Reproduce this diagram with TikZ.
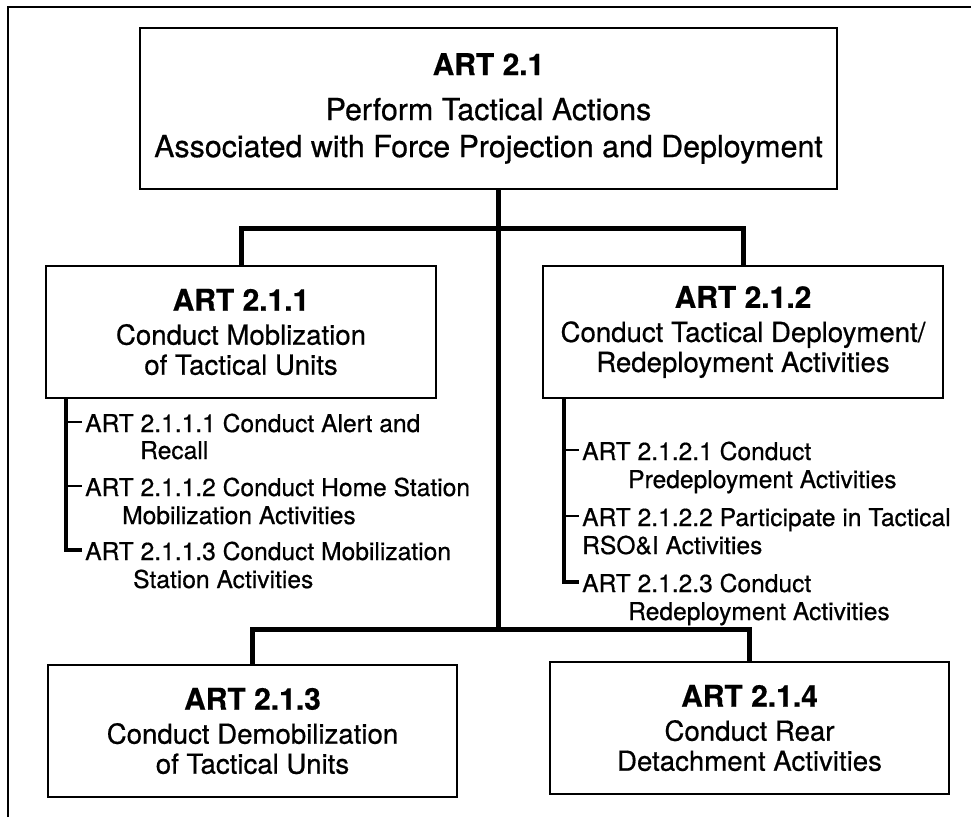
\documentclass[tikz,border=0pt]{standalone}
\usepackage{fontspec}
\setmainfont{TeX Gyre Heros}[FakeBold=0.6, BoldFeatures={FakeBold=0.4}]
\usetikzlibrary{positioning}

\newcommand{\arthead}[1]{{\fontsize{30}{30}\selectfont\bfseries #1}}

\tikzset{
  artbox/.style={draw, line width=2.4pt, align=center, inner sep=0pt,
                 font=\fontsize{27.6}{30}\selectfont},
  link/.style={line width=5pt},
  spine/.style={line width=3.4pt},
  tick/.style={line width=2.4pt},
  item/.style={inner sep=0pt, anchor=base west, font=\fontsize{24.6}{27}\selectfont}
}

\begin{document}
\begin{tikzpicture}[x=1pt, y=-1pt]
	\useasboundingbox (0,0) rectangle (971,817);
	% frame
	\draw[line width=2.5pt] (8,817) -- (8,7) -- (971,7);

	% boxes
	\node[artbox, minimum width=697, minimum height=161,
	      font=\fontsize{30.4}{37}\selectfont] (top) at (488.5,108.5)
	      {\arthead{ART 2.1}\\[8pt] Perform Tactical Actions\\ Associated with Force Projection and Deployment};
	\node[artbox, minimum width=390, minimum height=132] (b211) at (241,332)
	      {\arthead{ART 2.1.1}\\[4pt] Conduct Moblization\\ of Tactical Units};
	\node[artbox, minimum width=400, minimum height=132] (b212) at (743,332)
	      {\arthead{ART 2.1.2}\\[4pt] Conduct Tactical Deployment/\\ Redeployment Activities};
	\node[artbox, minimum width=409, minimum height=132] (b213) at (252.5,731)
	      {\arthead{ART 2.1.3}\\[4pt] Conduct Demobilization\\ of Tactical Units};
	\node[artbox, minimum width=399, minimum height=132] (b214) at (749.5,728)
	      {\arthead{ART 2.1.4}\\[4pt] Conduct Rear\\ Detachment Activities};

	% connectors
	\coordinate (hubU) at (498,228);
	\coordinate (hubL) at (498,629);
	\draw[link] (top.south -| hubU) -- (hubL);
	\draw[link] (b211.north) |- (hubU) -| (b212.north);
	\draw[link] (b213.north) |- (hubL) -| (b214.north);

	% sub-tasks of 2.1.1
	\node[item] (i1) at (85,432) {ART 2.1.1.1 Conduct Alert and};
	\node[item] (i1b) at (140,459) {Recall};
	\node[item] (i2) at (85,496) {ART 2.1.1.2 Conduct Home Station};
	\node[item] (i2b) at (122,524) {Mobilization Activities};
	\node[item] (i3) at (85,560) {ART 2.1.1.3 Conduct Mobilization};
	\node[item] (i3b) at (133,588) {Station Activities};

	% sub-tasks of 2.1.2
	\node[item] (j1) at (582,460) {ART 2.1.2.1 Conduct};
	\node[item] (j1b) at (628,488) {Predeployment Activities};
	\node[item] (j2) at (582,526) {ART 2.1.2.2 Participate in Tactical};
	\node[item] (j2b) at (582,554) {RSO\&I Activities};
	\node[item] (j3) at (582,592) {ART 2.1.2.3 Conduct};
	\node[item] (j3b) at (628,620) {Redeployment Activities};

	% brackets
	\foreach \n in {i1,i2,i3,j1,j2,j3}
		\coordinate (\n t) at ([xshift=-3pt,yshift=10pt]\n.base west);
	\coordinate (lspine) at ([xshift=21pt]b211.south west);
	\coordinate (rspine) at ([xshift=22pt]b212.south west);
	\draw[spine] (lspine) |- (i3t);
	\draw[spine] (rspine) |- (j3t);
	\foreach \n in {i1,i2}
		\draw[tick] (lspine |- \n t) -- (\n t);
	\foreach \n in {j1,j2}
		\draw[tick] (rspine |- \n t) -- (\n t);
\end{tikzpicture}
\end{document}
